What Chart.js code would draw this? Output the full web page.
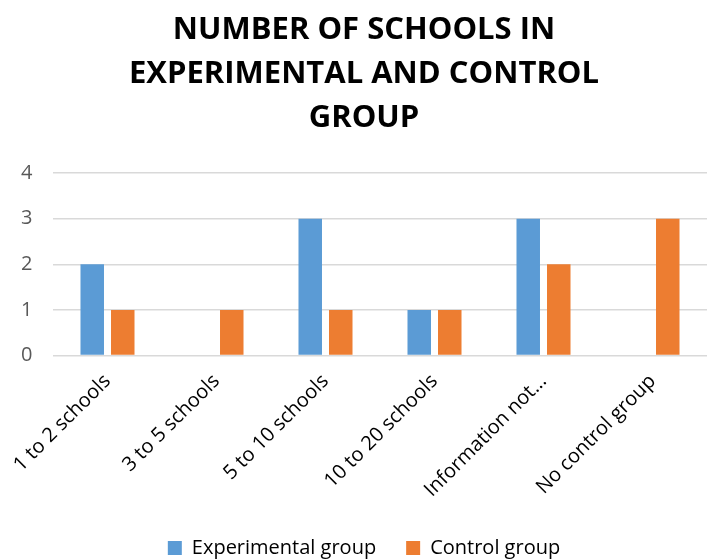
<!DOCTYPE html>
<html>
<head>
<meta charset="utf-8">
<script src="https://cdn.jsdelivr.net/npm/chart.js@4.4.1/dist/chart.umd.min.js"></script>
<style>
  html, body { margin: 0; padding: 0; background: #fff; }
  #wrap { width: 707px; height: 560px; }
</style>
</head>
<body>
<div id="wrap"><canvas id="chart" width="707" height="560"></canvas></div>
<script>
// categories and series
var categories = ['1 to 2 schools', '3 to 5 schools', '5 to 10 schools', '10 to 20 schools', 'Information not...', 'No control group'];
var experimental = [2, null, 3, 1, 3, null];
var control = [1, 1, 1, 1, 2, 3];
var yTicks = [0, 1, 2, 3, 4];

var colors = { blue: '#5B9BD5', orange: '#ED7D31', grid: '#d9d9d9', tick: '#595959' };

new Chart(document.getElementById('chart'), {
    type: 'bar',
    data: {
        labels: categories,
        datasets: [
            { label: 'Experimental group', data: experimental, backgroundColor: colors.blue, barPercentage: 0.77, categoryPercentage: 0.56 },
            { label: 'Control group', data: control, backgroundColor: colors.orange, barPercentage: 0.77, categoryPercentage: 0.56 }
        ]
    },
    options: {
        responsive: false, animation: false,
        layout: { padding: { left: 21, right: 0, top: 8, bottom: -8 } },
        plugins: {
            title: {
                display: true,
                text: ['NUMBER OF SCHOOLS IN', 'EXPERIMENTAL AND CONTROL', 'GROUP'],
                color: '#000',
                font: { family: 'Open Sans', size: 31, weight: 'bold', lineHeight: 1.42 },
                padding: { top: 0, bottom: 33 }
            },
            legend: {
                position: 'bottom',
                labels: { color: '#000', boxWidth: 14, boxHeight: 14, padding: 30, font: { family: 'Open Sans', size: 20 } }
            },
            tooltip: { enabled: false }
        },
        scales: {
            x: {
                grid: { display: false },
                border: { display: false },
                ticks: { color: '#000', maxRotation: 45, minRotation: 45, font: { family: 'Open Sans', size: 20 }, padding: 6 }
            },
            y: {
                min: 0, max: 4,
                afterBuildTicks: function (axis) { axis.ticks = yTicks.map(function (v) { return { value: v }; }); },
                afterFit: function (axis) { axis.width = 32; },
                grid: { color: colors.grid, lineWidth: 1.5, drawTicks: false },
                border: { display: false },
                ticks: { color: colors.tick, crossAlign: 'far', font: { family: 'Open Sans', size: 20 } }
            }
        }
    }
});
</script>
</body>
</html>
